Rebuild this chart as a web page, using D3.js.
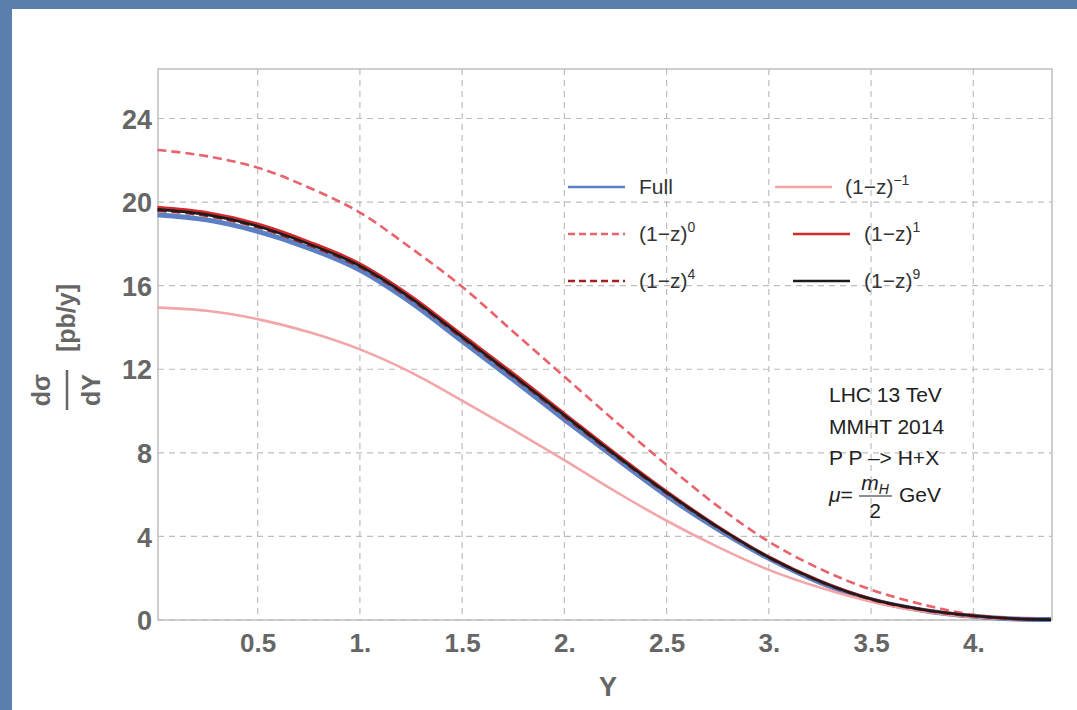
<!DOCTYPE html>
<html lang="en">
  <head>
  <meta charset="utf-8"/>
  <script type="text/javascript" src="https://cdnjs.cloudflare.com/ajax/libs/d3/7.8.5/d3.min.js"></script>
  <style>
    body { margin: 0; background: #5b7fac; }
    svg { display: block; }
    text { font-family: "Liberation Sans", Arial, sans-serif; }
  </style>
  </head>
  <body>
<svg class="fillmeup"></svg>
    <script type="text/javascript">

var rapidity = [0.01, 0.25, 0.5, 0.75, 1.0, 1.25, 1.5, 1.75, 2.0, 2.25, 2.5, 2.75, 3.0, 3.25, 3.5, 3.75, 4.0, 4.2, 4.38];

// dsigma/dY for each approximation
var full    = [19.4, 19.15, 18.6, 17.8, 16.75, 15.2, 13.35, 11.5, 9.6, 7.75, 5.95, 4.35, 2.95, 1.8, 0.97, 0.47, 0.18, 0.05, 0.02];
var powM1   = [14.95, 14.8, 14.4, 13.78, 12.95, 11.85, 10.5, 9.1, 7.65, 6.15, 4.75, 3.5, 2.4, 1.55, 0.88, 0.42, 0.14, 0.04, 0.01];
var pow0    = [22.5, 22.2, 21.65, 20.7, 19.5, 17.8, 15.95, 13.8, 11.65, 9.5, 7.42, 5.45, 3.75, 2.45, 1.45, 0.75, 0.25, 0.08, 0.02];
var pow1    = [19.75, 19.5, 18.95, 18.1, 17.05, 15.5, 13.65, 11.8, 9.88, 7.97, 6.15, 4.48, 3.02, 1.87, 1.01, 0.5, 0.2, 0.06, 0.02];
var pow4    = [19.6, 19.35, 18.8, 17.95, 16.9, 15.35, 13.5, 11.65, 9.75, 7.86, 6.07, 4.43, 2.99, 1.84, 0.99, 0.49, 0.19, 0.06, 0.02];
var pow9    = [19.65, 19.4, 18.85, 18.0, 16.95, 15.4, 13.55, 11.7, 9.8, 7.9, 6.1, 4.45, 3.0, 1.85, 1.0, 0.5, 0.2, 0.06, 0.02];

// tick labels (Mathematica style)
var xTicks = [0.5, 1, 1.5, 2, 2.5, 3, 3.5, 4];
var xTickLabels = ["0.5", "1.", "1.5", "2.", "2.5", "3.", "3.5", "4."];
var yTicks = [0, 4, 8, 12, 16, 20, 24];
var yTickLabels = ["0", "4", "8", "12", "16", "20", "24"];

// legend entries: label base + exponent
var legendBase = ["Full", "(1\u2212z)", "(1\u2212z)", "(1\u2212z)", "(1\u2212z)", "(1\u2212z)"];
var legendExp = ["", "\u22121", "0", "1", "4", "9"];

var series = [
  {values: full,  color: "#5b80c4", width: 5,   dash: null},
  {values: powM1, color: "#f2a6a8", width: 2.6, dash: null},
  {values: pow0,  color: "#e8636b", width: 2.6, dash: "9,5"},
  {values: pow1,  color: "#d42a2c", width: 3,   dash: null},
  {values: pow4,  color: "#a3211f", width: 3,   dash: "9,5"},
  {values: pow9,  color: "#1c1c1c", width: 2.6, dash: null}
];

var W = 1077, H = 710;
// plot frame (named so they don't clash with window.top etc.)
var frameL = 158, frameR = 1052, frameT = 69, frameB = 620;

var svg = d3.select(".fillmeup").attr("width", W).attr("height", H);

// white panel on the blue background
svg.append("rect").attr("x", 12).attr("y", 9).attr("width", W - 12).attr("height", H - 9).attr("fill", "#ffffff");

var x = d3.scaleLinear().domain([0.0125, 4.385]).range([frameL, frameR]);
var y = d3.scaleLinear().domain([0, 26.37]).range([frameB, frameT]);

// frame
svg.append("rect")
  .attr("x", frameL).attr("y", frameT)
  .attr("width", frameR - frameL).attr("height", frameB - frameT)
  .attr("fill", "none").attr("stroke", "#b5b5b5").attr("stroke-width", 1.3);

// dashed grid
svg.append("g").selectAll("line.h").data(yTicks).enter().append("line")
  .attr("x1", frameL).attr("x2", frameR)
  .attr("y1", function(d) { return y(d); }).attr("y2", function(d) { return y(d); })
  .attr("stroke", "#bdbdbd").attr("stroke-width", 1.2).attr("stroke-dasharray", "6,5");
svg.append("g").selectAll("line.v").data(xTicks).enter().append("line")
  .attr("y1", frameT).attr("y2", frameB)
  .attr("x1", function(d) { return x(d); }).attr("x2", function(d) { return x(d); })
  .attr("stroke", "#bdbdbd").attr("stroke-width", 1.2).attr("stroke-dasharray", "6,5");

// axes (labels only)
var xAxis = d3.axisBottom(x).tickValues(xTicks).tickSize(0)
  .tickFormat(function(d, i) { return xTickLabels[i]; });
var gx = svg.append("g").attr("transform", "translate(0," + frameB + ")").call(xAxis);
gx.select(".domain").remove();
gx.selectAll("text").attr("dy", "0").attr("y", 32)
  .style("font-size", "26px").style("font-weight", "bold").attr("fill", "#666");

var yAxis = d3.axisLeft(y).tickValues(yTicks).tickSize(0)
  .tickFormat(function(d, i) { return yTickLabels[i]; });
var gy = svg.append("g").attr("transform", "translate(" + frameL + ",0)").call(yAxis);
gy.select(".domain").remove();
gy.selectAll("text").attr("x", -6).attr("dy", "0.36em")
  .style("font-size", "27px").style("font-weight", "bold").attr("fill", "#666");

// axis titles
svg.append("text").attr("x", 608).attr("y", 696).attr("text-anchor", "middle")
  .style("font-size", "27px").style("font-weight", "bold").attr("fill", "#666").text("Y");

var ylab = svg.append("g").attr("transform", "translate(67,390) rotate(-90)");
ylab.append("text").attr("x", 0).attr("y", -17).attr("text-anchor", "middle")
  .style("font-size", "25px").style("font-weight", "bold").attr("fill", "#666").text("d\u03c3");
ylab.append("line").attr("x1", -20).attr("x2", 20).attr("y1", 0).attr("y2", 0)
  .attr("stroke", "#666").attr("stroke-width", 2.5);
ylab.append("text").attr("x", 0).attr("y", 33).attr("text-anchor", "middle")
  .style("font-size", "25px").style("font-weight", "bold").attr("fill", "#666").text("dY");
ylab.append("text").attr("x", 72).attr("y", 8).attr("text-anchor", "middle")
  .style("font-size", "25px").style("font-weight", "bold").attr("fill", "#666").text("[pb/y]");

// curves
var line = d3.line()
  .x(function(d) { return x(d[0]); })
  .y(function(d) { return y(d[1]); })
  .curve(d3.curveMonotoneX);

var plot = svg.append("g");
series.forEach(function(s) {
  var pts = rapidity.map(function(r, i) { return [r, s.values[i]]; });
  plot.append("path")
    .attr("d", line(pts))
    .attr("fill", "none")
    .attr("stroke", s.color)
    .attr("stroke-width", s.width)
    .attr("stroke-dasharray", s.dash)
    .attr("stroke-linecap", "butt");
});

// legend: two columns, three rows
var legendPos = [
  {lx: 568, tx: 639, y: 187},
  {lx: 775, tx: 845, y: 187},
  {lx: 568, tx: 639, y: 234},
  {lx: 793, tx: 864, y: 234},
  {lx: 568, tx: 639, y: 281},
  {lx: 793, tx: 864, y: 281}
];
var legend = svg.append("g");
series.forEach(function(s, i) {
  var p = legendPos[i];
  legend.append("line")
    .attr("x1", p.lx).attr("x2", p.lx + 57).attr("y1", p.y).attr("y2", p.y)
    .attr("stroke", s.color).attr("stroke-width", 2.4)
    .attr("stroke-dasharray", s.dash ? "7,4" : null);
  var t = legend.append("text").attr("x", p.tx).attr("y", p.y + 7)
    .style("font-size", "21px").attr("fill", "#333");
  t.append("tspan").text(legendBase[i]);
  if (legendExp[i]) {
    t.append("tspan").attr("dy", -9).style("font-size", "14px").text(legendExp[i]);
  }
});

// annotation
var note = svg.append("g").attr("fill", "#222").style("font-size", "21px");
note.append("text").attr("x", 829).attr("y", 402).text("LHC 13 TeV");
note.append("text").attr("x", 829).attr("y", 434).text("MMHT 2014");
note.append("text").attr("x", 829).attr("y", 465).text("P P \u2013> H+X");
note.append("text").attr("x", 829).attr("y", 502).style("font-style", "italic").text("\u03bc")
  .append("tspan").style("font-style", "normal").text("=");
var mh = note.append("text").attr("x", 875).attr("y", 490).attr("text-anchor", "middle");
mh.append("tspan").style("font-style", "italic").text("m");
mh.append("tspan").style("font-style", "italic").style("font-size", "14px").attr("dy", 4).text("H");
note.append("line").attr("x1", 859).attr("x2", 892).attr("y1", 496).attr("y2", 496)
  .attr("stroke", "#222").attr("stroke-width", 1.2);
note.append("text").attr("x", 875).attr("y", 518).attr("text-anchor", "middle").text("2");
note.append("text").attr("x", 899).attr("y", 502).text("GeV");

    </script>
  </body>
</html>
